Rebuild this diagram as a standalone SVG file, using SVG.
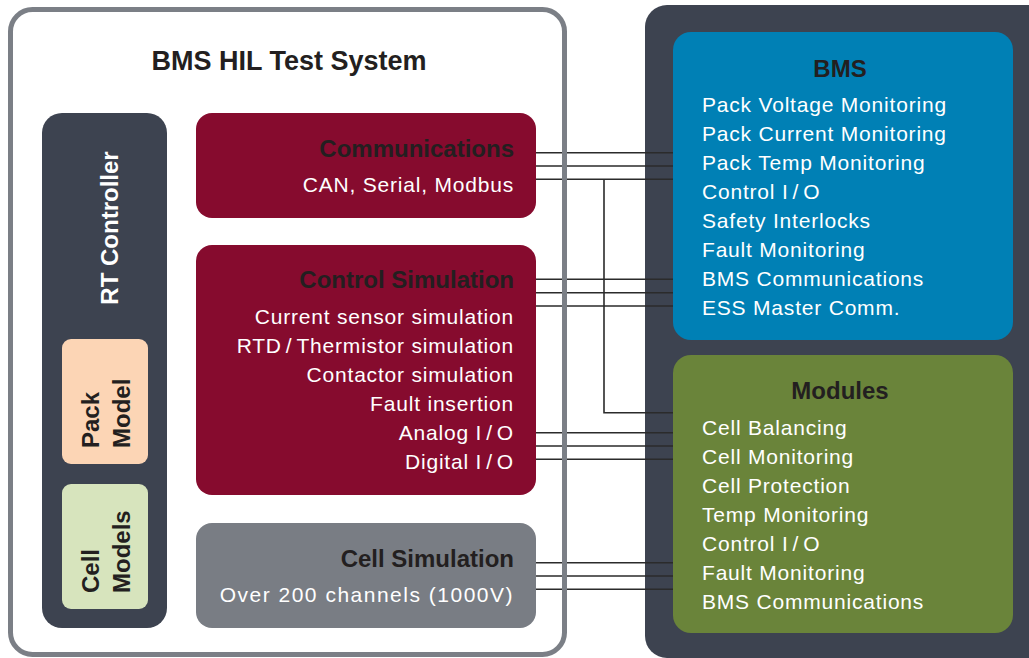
<svg xmlns="http://www.w3.org/2000/svg" width="1029" height="658" viewBox="0 0 1029 658">
<style>
.t{font-family:"Liberation Sans",Arial,sans-serif;font-size:21px;letter-spacing:0.8px;fill:#ffffff}
.h{font-family:"Liberation Sans",Arial,sans-serif;font-weight:bold;font-size:24px;fill:#231f20}
.e{text-anchor:end}
.m{text-anchor:middle}
.ln{stroke:#2b2b2b;stroke-width:1.6;fill:none}
</style>
<rect width="1029" height="658" fill="#ffffff"/>
<g id="device-panel">
<rect x="645" y="5" width="420" height="653" rx="22" fill="#3d4350"/>
</g>
<g id="test-system-bg">
<rect x="10.5" y="9.5" width="554" height="645" rx="22" fill="#ffffff"/>
</g>
<g id="connectors">
<path class="ln" d="M536 152.7H673M536 166H673M536 179.3H673"/>
<path class="ln" d="M536 279.3H673M536 292.7H673M536 306H673"/>
<path class="ln" d="M604 179.3V412.7H673"/>
<path class="ln" d="M536 432.7H673M536 446H673M536 459.3H673"/>
<path class="ln" d="M536 562.7H673M536 576H673M536 589.3H673"/>
</g>
<g id="test-system">
<rect x="10.5" y="9.5" width="554" height="645" rx="22" fill="none" stroke="#7b7f86" stroke-width="5"/>
<text class="h m" x="289" y="70" style="font-size:27px">BMS HIL Test System</text>
</g>
<g id="rt-controller">
<rect x="42" y="113" width="125" height="515" rx="20" fill="#3d4350"/>
<text class="h" style="fill:#ffffff;text-anchor:middle" transform="translate(117.5,228) rotate(-90)">RT Controller</text>
</g>
<g id="pack-model">
<rect x="62" y="339" width="86" height="125" rx="9" fill="#fcd5b5"/>
<text class="h" transform="translate(98.5,448) rotate(-90)">Pack</text>
<text class="h" transform="translate(130,448) rotate(-90)">Model</text>
</g>
<g id="cell-models">
<rect x="62" y="484" width="86" height="125" rx="9" fill="#d7e4bd"/>
<text class="h" transform="translate(98.5,593) rotate(-90)">Cell</text>
<text class="h" transform="translate(130,593) rotate(-90)">Models</text>
</g>
<g id="communications">
<rect x="196" y="113" width="340" height="105" rx="16" fill="#860b2e"/>
<text class="h e" x="514" y="157">Communications</text>
<text class="t e" x="514" y="192">CAN, Serial, Modbus</text>
</g>
<g id="control-simulation">
<rect x="196" y="245" width="340" height="250" rx="16" fill="#860b2e"/>
<text class="h e" x="514" y="288">Control Simulation</text>
<text class="t e" x="514" y="324">Current sensor simulation</text>
<text class="t e" x="514" y="353">RTD<tspan dx="4">/</tspan><tspan dx="4">Thermistor simulation</tspan></text>
<text class="t e" x="514" y="382">Contactor simulation</text>
<text class="t e" x="514" y="411">Fault insertion</text>
<text class="t e" x="514" y="440">Analog I<tspan dx="4">/</tspan><tspan dx="4">O</tspan></text>
<text class="t e" x="514" y="469">Digital I<tspan dx="4">/</tspan><tspan dx="4">O</tspan></text>
</g>
<g id="cell-simulation">
<rect x="196" y="523" width="340" height="105" rx="16" fill="#797d84"/>
<text class="h e" x="514" y="567">Cell Simulation</text>
<text class="t e" x="514" y="602" style="letter-spacing:1.5px">Over 200 channels (1000V)</text>
</g>
<g id="bms">
<rect x="673" y="32" width="340" height="308" rx="18" fill="#0080b5"/>
<text class="h m" x="840" y="77">BMS</text>
<text class="t" x="702" y="112">Pack Voltage Monitoring</text>
<text class="t" x="702" y="141">Pack Current Monitoring</text>
<text class="t" x="702" y="170">Pack Temp Monitoring</text>
<text class="t" x="702" y="199">Control I<tspan dx="4">/</tspan><tspan dx="4">O</tspan></text>
<text class="t" x="702" y="228">Safety Interlocks</text>
<text class="t" x="702" y="257">Fault Monitoring</text>
<text class="t" x="702" y="286">BMS Communications</text>
<text class="t" x="702" y="315">ESS Master Comm.</text>
</g>
<g id="modules">
<rect x="673" y="355" width="340" height="278" rx="18" fill="#6a843a"/>
<text class="h m" x="840" y="399">Modules</text>
<text class="t" x="702" y="435">Cell Balancing</text>
<text class="t" x="702" y="464">Cell Monitoring</text>
<text class="t" x="702" y="493">Cell Protection</text>
<text class="t" x="702" y="522">Temp Monitoring</text>
<text class="t" x="702" y="551">Control I<tspan dx="4">/</tspan><tspan dx="4">O</tspan></text>
<text class="t" x="702" y="580">Fault Monitoring</text>
<text class="t" x="702" y="609">BMS Communications</text>
</g>
</svg>
